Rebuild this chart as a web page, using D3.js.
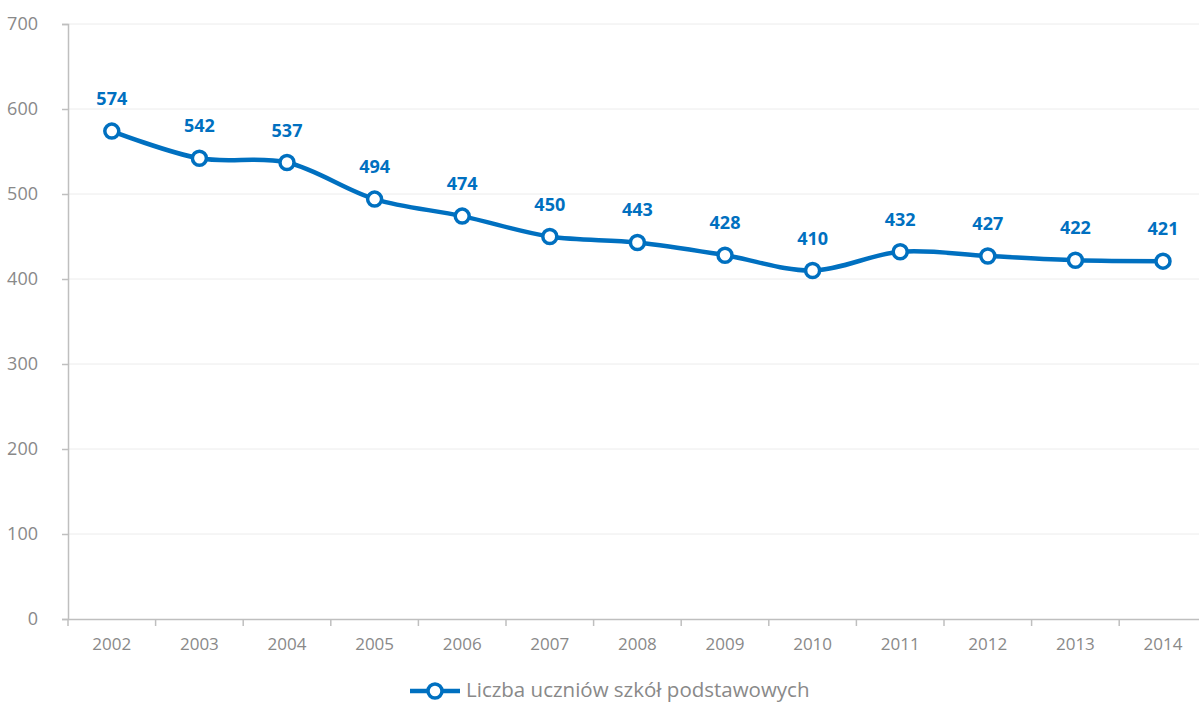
<!DOCTYPE html>
<html><head><meta charset="utf-8">
<script src="https://cdn.jsdelivr.net/npm/d3@7"></script>
<style>body{margin:0;background:#fff}svg{display:block}</style>
</head><body>
<svg id="c" width="1199" height="702"></svg>
<script>
const years = ["2002","2003","2004","2005","2006","2007","2008","2009","2010","2011","2012","2013","2014"];
const values = [574,542,537,494,474,450,443,428,410,432,427,422,421];
const yTicks = [0,100,200,300,400,500,600,700];
const seriesName = "Liczba uczniów szkół podstawowych";

const blue = "#0070C0", grey = "#898989", axisCol = "#bfbfbf", gridCol = "#ececec";
const font = "'Open Sans', 'Noto Sans', sans-serif";
const svg = d3.select("#c");
const x = d3.scaleBand().domain(years).range([68, 68 + 13 * 87.6]);
const y = d3.scaleLinear().domain([0, 700]).range([619, 24]);

// gridlines
svg.append("g").selectAll("line").data(yTicks.filter(d => d > 0)).join("line")
  .attr("x1", 68).attr("x2", 1199).attr("y1", d => y(d)).attr("y2", d => y(d))
  .attr("stroke", gridCol).attr("stroke-width", 1);

// y axis
const ya = svg.append("g").attr("transform", "translate(68,0)")
  .call(d3.axisLeft(y).tickValues(yTicks).tickSize(6).tickPadding(24));
ya.select(".domain").attr("stroke", axisCol).attr("stroke-width", 1.5);
ya.selectAll(".tick line").attr("stroke", axisCol).attr("stroke-width", 1.5);
ya.selectAll("text").attr("fill", grey).attr("font-family", font).attr("font-size", 18);

// x axis
const xa = svg.append("g").attr("transform", "translate(0,619)")
  .call(d3.axisBottom(x).tickSize(0).tickPadding(19));
xa.select(".domain").attr("stroke", axisCol).attr("stroke-width", 1.5);
xa.selectAll("text").attr("fill", grey).attr("font-family", font).attr("font-size", 17);
svg.append("g").selectAll("line").data(years.concat(["end"])).join("line")
  .attr("x1", (d, i) => 68 + i * x.step()).attr("x2", (d, i) => 68 + i * x.step())
  .attr("y1", 619).attr("y2", 626).attr("stroke", axisCol).attr("stroke-width", 1.5);

const cx = d => x(d) + x.bandwidth() / 2;
// line
const line = d3.line().x((d, i) => cx(years[i])).y(d => y(d)).curve(d3.curveCatmullRom.alpha(0.5));
svg.append("path").datum(values).attr("d", line).attr("fill", "none")
  .attr("stroke", blue).attr("stroke-width", 4.5).attr("stroke-linejoin", "round");

// markers
svg.append("g").selectAll("circle").data(values).join("circle")
  .attr("cx", (d, i) => cx(years[i])).attr("cy", d => y(d)).attr("r", 7)
  .attr("fill", "#fff").attr("stroke", blue).attr("stroke-width", 3.5);

// labels
svg.append("g").selectAll("text").data(values).join("text")
  .attr("x", (d, i) => cx(years[i])).attr("y", d => y(d) - 26)
  .attr("text-anchor", "middle").attr("fill", blue).attr("font-family", font)
  .attr("font-weight", "bold").attr("font-size", 18).text(d => d);

// legend
const lg = svg.append("g");
lg.append("line").attr("x1", 410).attr("x2", 460).attr("y1", 691).attr("y2", 691)
  .attr("stroke", blue).attr("stroke-width", 4.5);
lg.append("circle").attr("cx", 435).attr("cy", 691).attr("r", 7)
  .attr("fill", "#fff").attr("stroke", blue).attr("stroke-width", 3.5);
lg.append("text").attr("x", 466).attr("y", 697).attr("fill", grey)
  .attr("font-family", font).attr("font-size", 20.5).text(seriesName);
</script>
</body></html>
